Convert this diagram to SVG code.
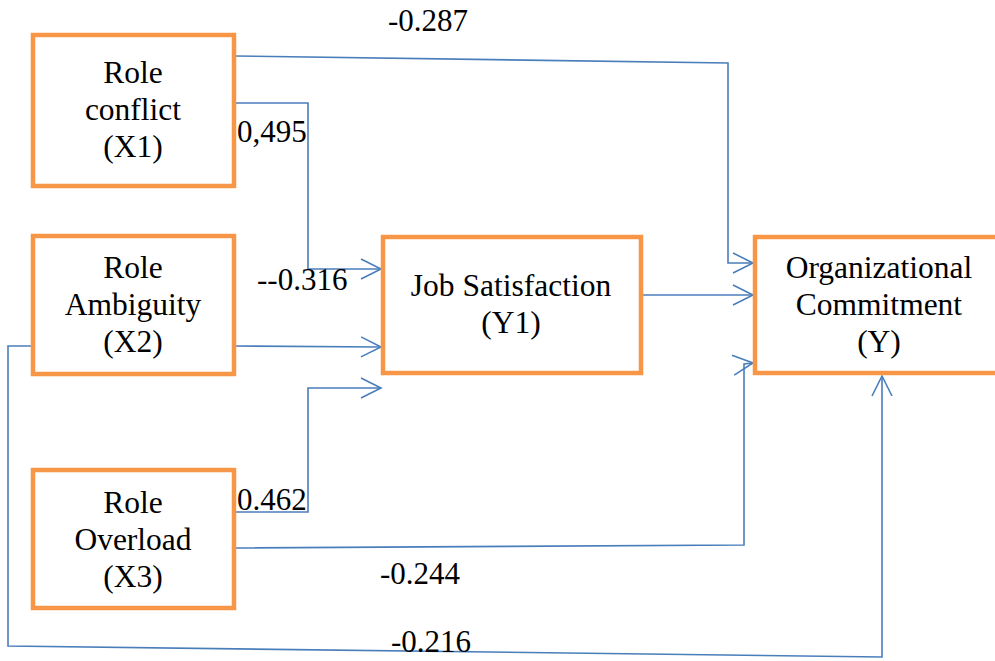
<svg xmlns="http://www.w3.org/2000/svg" width="995" height="661" viewBox="0 0 995 661">
<style>
.box{fill:#fff;stroke:#F79646;stroke-width:4.5}
.t{font-family:'Liberation Serif','Times New Roman',serif;font-size:31.5px;fill:#000;text-anchor:middle}
.l{font-family:'Liberation Serif','Times New Roman',serif;font-size:31px;fill:#000}
.c{fill:none;stroke:#4A7EBB;stroke-width:1.6}
</style>
<defs>
<marker id="a" markerUnits="userSpaceOnUse" markerWidth="24" markerHeight="24" refX="21" refY="11" orient="auto">
<path d="M1,1 L21,11 L1,21" fill="none" stroke="#4A7EBB" stroke-width="1.6"/>
</marker>
</defs>
<rect width="995" height="661" fill="#fff"/>
<g id="connectors">
<path class="c" d="M235,56 L728,63 L728,263 L753,263" marker-end="url(#a)"/>
<path class="c" d="M235,103 L308,103 L308,269 L381,269" marker-end="url(#a)"/>
<path class="c" d="M235,346 L381,347" marker-end="url(#a)"/>
<path class="c" d="M235,512 L308,512 L308,388 L381,388" marker-end="url(#a)"/>
<path class="c" d="M641,295 L753,295" marker-end="url(#a)"/>
<path class="c" d="M235,548 L744,545 L744,364 L753,363" marker-end="url(#a)"/>
<path class="c" d="M33,346 L8,346 L8,646 L882,657 L882,376" marker-end="url(#a)"/>
</g>
<g id="X1"><rect class="box" x="33" y="35" width="201" height="151"/>
<text class="t" x="133" y="83">Role</text><text class="t" x="133" y="120">conflict</text><text class="t" x="133" y="157">(X1)</text></g>
<g id="X2"><rect class="box" x="33" y="236" width="201" height="138"/>
<text class="t" x="133" y="278">Role</text><text class="t" x="133" y="315">Ambiguity</text><text class="t" x="133" y="352">(X2)</text></g>
<g id="X3"><rect class="box" x="33" y="470" width="201" height="138"/>
<text class="t" x="133" y="513">Role</text><text class="t" x="133" y="550">Overload</text><text class="t" x="133" y="587">(X3)</text></g>
<g id="Y1"><rect class="box" x="383" y="237" width="258" height="136"/>
<text class="t" x="511" y="296">Job Satisfaction</text><text class="t" x="511" y="333">(Y1)</text></g>
<g id="Y"><rect class="box" x="755" y="237" width="250" height="136"/>
<text class="t" x="879" y="278">Organizational</text><text class="t" x="879" y="315">Commitment</text><text class="t" x="879" y="352">(Y)</text></g>
<g id="labels">
<text class="l" x="388" y="31">-0.287</text>
<text class="l" x="237" y="142">0,495</text>
<text class="l" x="257" y="290">--0.316</text>
<text class="l" x="237" y="510">0.462</text>
<text class="l" x="380" y="584">-0.244</text>
<text class="l" x="391" y="652">-0.216</text>
</g>
</svg>
